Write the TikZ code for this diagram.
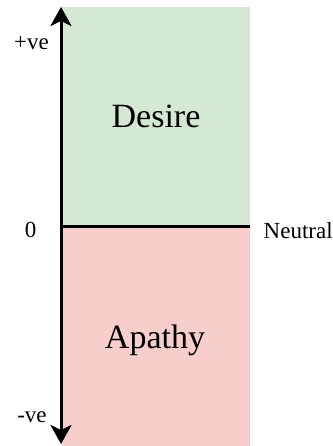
\documentclass[tikz,border=0pt]{standalone}
\usepackage{fontspec}
\setmainfont{Liberation Serif}
\usetikzlibrary{arrows.meta,positioning}

\tikzset{
  zone/.style={draw=none,minimum width=189pt,minimum height=#1,inner sep=0pt},
  big/.style={font=\fontsize{34}{40}\selectfont,inner sep=0pt},
  small/.style={font=\fontsize{23}{27}\selectfont,inner sep=0pt},
  axis/.style={line width=3pt}
}

\begin{document}
\begin{tikzpicture}[x=1pt,y=-1pt]
\useasboundingbox (0,0) rectangle (332,446);
\node[zone=219pt,fill={rgb,255:red,213;green,232;blue,212}] (desire) at (155.5,116.5) {};
\node[zone=220pt,fill={rgb,255:red,248;green,206;blue,204}] (apathy) at (155.5,336) {};
\node[big,anchor=base] (desiretext) at (156,128) {Desire};
\node[big,anchor=base] (apathytext) at (155,348) {Apathy};
\coordinate (top) at (61,7);
\coordinate (bottom) at (61,444);
\draw[axis,{Stealth[length=19pt,width=21pt,inset=5pt]}-{Stealth[length=19pt,width=21pt,inset=5pt]}] (top) -- (bottom);
\draw[axis] (desire.south west) -- (desire.south east);
\node[small,anchor=base west] (neutral) at (263.5,238) {Neutral};
\node[small,anchor=base] (zero) at (30.5,237) {0};
\node[small,anchor=base] (pos) at (31.5,50) {+ve};
\node[small,anchor=base] (neg) at (32,422) {-ve};
\end{tikzpicture}
\end{document}
